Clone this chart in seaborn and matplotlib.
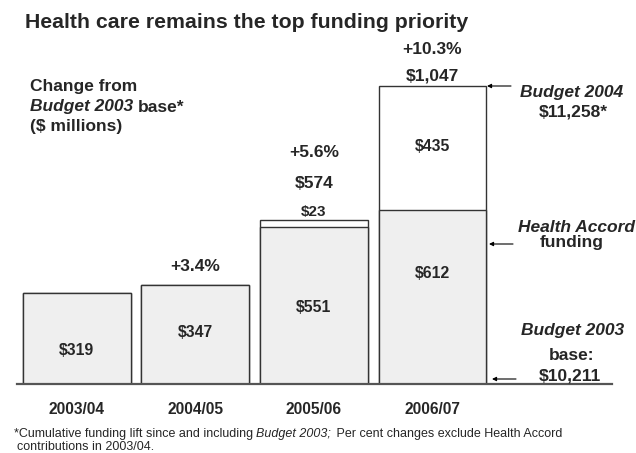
import numpy as np
import pandas as pd
import matplotlib
matplotlib.use('Agg')
import matplotlib.pyplot as plt
import seaborn as sns

# data ($ millions, change from Budget 2003 base)
years = ['2003/04', '2004/05', '2005/06', '2006/07']
base_lift = [319, 347, 551, 612]
accord = [0, 0, 23, 435]
pct_change = ['', '+3.4%', '+5.6%', '+10.3%']
total_lift = list(np.add(base_lift, accord))

df = pd.DataFrame({'year': years, 'base': base_lift, 'total': total_lift})

sns.set_style('white')
plt.rcParams['font.family'] = ['Liberation Sans', 'DejaVu Sans']

W, H = 636, 453
fig = plt.figure(figsize=(W / 100, H / 100), dpi=100)
px_per_unit = 0.285
ax = fig.add_axes([17 / W, (H - 384) / H, 595 / W, 384 / H])

edge = '#333333'
sns.barplot(data=df, x='year', y='total', color='white', saturation=1,
            edgecolor=edge, linewidth=1.0, width=0.91, errorbar=None, ax=ax)
sns.barplot(data=df, x='year', y='base', color='#efefef', saturation=1,
            edgecolor=edge, linewidth=1.0, width=0.91, errorbar=None, ax=ax)

ax.set_xlim(-0.503, 4.513)
ax.set_ylim(0, 384 / px_per_unit)
ax.set_xlabel('')
ax.set_ylabel('')
ax.set_yticks([])
for s in ['top', 'left', 'right']:
    ax.spines[s].set_visible(False)
ax.spines['bottom'].set_color('#555555')
ax.spines['bottom'].set_linewidth(1.6)
ax.tick_params(axis='x', length=0, pad=13)
for lab in ax.get_xticklabels():
    lab.set_fontsize(11.2)
    lab.set_fontweight('bold')

# labels inside the grey bars
inner_y = [119, 182, 267, 389]
for i, v in enumerate(base_lift):
    ax.text(i, inner_y[i], f'${v:,}', ha='center', va='center',
            fontsize=11.3, fontweight='bold')

# Health Accord segments
ax.text(3, 832, f'${accord[3]:,}', ha='center', va='center', fontsize=11.3, fontweight='bold')
ax.text(2, total_lift[2] + 30, f'${accord[2]:,}', ha='center', va='center',
        fontsize=11, fontweight='bold')

# totals and percentage changes above bars
ax.text(2, 702, f'${total_lift[2]:,}', ha='center', va='center', fontsize=12.5, fontweight='bold')
ax.text(3, total_lift[3] + 34, f'${total_lift[3]:,}', ha='center', va='center',
        fontsize=12.5, fontweight='bold')
pct_y = [0, 414, 814, 1175]
for i, p in enumerate(pct_change):
    if p:
        ax.text(i, pct_y[i], p, ha='center', va='center', fontsize=12.5, fontweight='bold')


def ftext(x, y, s, **kw):
    return fig.text(x / W, 1 - y / H, s, **kw)


def runs(x, y, parts, size, gap):
    r = fig.canvas.get_renderer()
    for s, style, weight in parts:
        t = ftext(x, y, s, fontsize=size, fontstyle=style, fontweight=weight,
                  ha='left', va='center')
        x += t.get_window_extent(renderer=r).width + gap


ftext(25, 23, 'Health care remains the top funding priority', fontsize=15.3,
      fontweight='bold', ha='left', va='center')

ftext(30, 87, 'Change from', fontsize=12.5, fontweight='bold', ha='left', va='center')
runs(30, 107, [('Budget 2003', 'italic', 'bold'), ('base*', 'normal', 'bold')], 12.5, 4.5)
ftext(30, 127, '($ millions)', fontsize=12.5, fontweight='bold', ha='left', va='center')

# right-hand notes
ftext(572, 93, 'Budget 2004', fontsize=12.5, fontweight='bold', fontstyle='italic', ha='center', va='center')
ftext(573, 112, '$11,258*', fontsize=12.5, fontweight='bold', ha='center', va='center')
ftext(576, 227, 'Health Accord', fontsize=12.5, fontweight='bold', fontstyle='italic', ha='center', va='center')
ftext(572, 243, 'funding', fontsize=12.5, fontweight='bold', ha='center', va='center')
ftext(573, 331, 'Budget 2003', fontsize=12.5, fontweight='bold', fontstyle='italic', ha='center', va='center')
ftext(572, 355, 'base:', fontsize=12.5, fontweight='bold', ha='center', va='center')
ftext(570, 376, '$10,211', fontsize=12.5, fontweight='bold', ha='center', va='center')

for y, x0, x1 in [(86, 511, 487), (244, 513, 489), (379, 516, 492)]:
    ax.annotate('', xy=(x1, H - y), xytext=(x0, H - y), xycoords='figure pixels',
                textcoords='figure pixels',
                arrowprops=dict(arrowstyle='-|>', color='black', lw=0.8,
                                mutation_scale=6, shrinkA=0, shrinkB=0))

# footnote
runs(14, 434, [('*Cumulative funding lift since and including', 'normal', 'normal'),
               ('Budget 2003;', 'italic', 'normal'),
               (' Per cent changes exclude Health Accord', 'normal', 'normal')], 9.0, 2.5)
ftext(17, 447, 'contributions in 2003/04.', fontsize=9.0, ha='left', va='center')

fig.savefig('out.png', dpi=100)
